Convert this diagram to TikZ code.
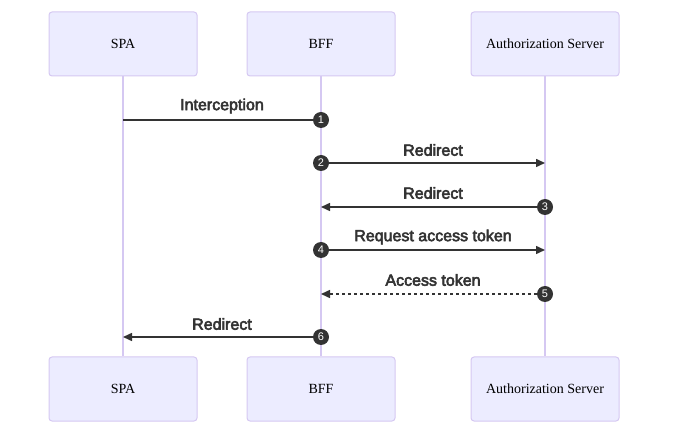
\documentclass[tikz,border=0pt]{standalone}
\usepackage{fontspec}
\setmainfont{Liberation Serif}
\newfontfamily\msgfont[FakeBold=3.5]{Liberation Sans}
\newfontfamily\numfont{Liberation Sans}
\usetikzlibrary{arrows.meta}
\definecolor{actorfill}{HTML}{ECECFF}
\definecolor{actorline}{HTML}{D5C8F2}
\definecolor{signal}{HTML}{333333}
\tikzset{
  actor/.style={draw=actorline, fill=actorfill, line width=1pt, rounded corners=3pt,
    minimum width=148pt, minimum height=64pt, inner sep=0pt,
    font=\fontsize{14}{16}\selectfont},
  lifeline/.style={draw=actorline, line width=1.5pt},
  msg/.style={draw=signal, line width=1.5pt},
  msgarrow/.style={msg, -{Triangle[length=9pt,width=8pt]}},
  msglabel/.style={text=signal, font=\msgfont\fontsize{16}{18}\selectfont, inner sep=0pt},
  seqnum/.style={circle, fill=signal, text=white, inner sep=0pt, minimum size=16pt,
    font=\numfont\fontsize{11}{12}\selectfont}
}
\begin{document}
\begin{tikzpicture}[x=1pt,y=-1pt]
  \useasboundingbox (0,0) rectangle (677,435);
  % actors
  \node[actor] (spa) at (123,44) {SPA};
  \node[actor] (bff) at (321,44) {BFF};
  \node[actor] (as) at (545,44) {Authorization Server};
  \node[actor] (spab) at (123,389) {SPA};
  \node[actor] (bffb) at (321,389) {BFF};
  \node[actor] (asb) at (545,389) {Authorization Server};
  \draw[lifeline] (spa) -- (spab);
  \draw[lifeline] (bff) -- (bffb);
  \draw[lifeline] (as) -- (asb);
  % messages
  \coordinate (e1) at (123,120);
  \coordinate (e2) at (545,163);
  \coordinate (e3) at (321,207);
  \coordinate (e4) at (545,250);
  \coordinate (e5) at (321,294);
  \coordinate (e6) at (123,337);
  \node[seqnum] (s1) at (321,120) {1};
  \node[seqnum] (s2) at (321,163) {2};
  \node[seqnum] (s3) at (545,207) {3};
  \node[seqnum] (s4) at (321,250) {4};
  \node[seqnum] (s5) at (545,294) {5};
  \node[seqnum] (s6) at (321,337) {6};
  \draw[msg] (s1) -- (e1);
  \draw[msgarrow] (s2) -- (e2);
  \draw[msgarrow] (s3) -- (e3);
  \draw[msgarrow] (s4) -- (e4);
  \draw[msgarrow, dash pattern=on 3pt off 3pt] (s5) -- (e5);
  \draw[msgarrow] (s6) -- (e6);
  %
  \node[msglabel] (l1) at (222,106) {Interception};
  \node[msglabel] (l2) at (433,150) {Redirect};
  \node[msglabel] (l3) at (433,193) {Redirect};
  \node[msglabel] (l4) at (433,237) {Request access token};
  \node[msglabel] (l5) at (433,280) {Access token};
  \node[msglabel] (l6) at (222,324) {Redirect};
\end{tikzpicture}
\end{document}
